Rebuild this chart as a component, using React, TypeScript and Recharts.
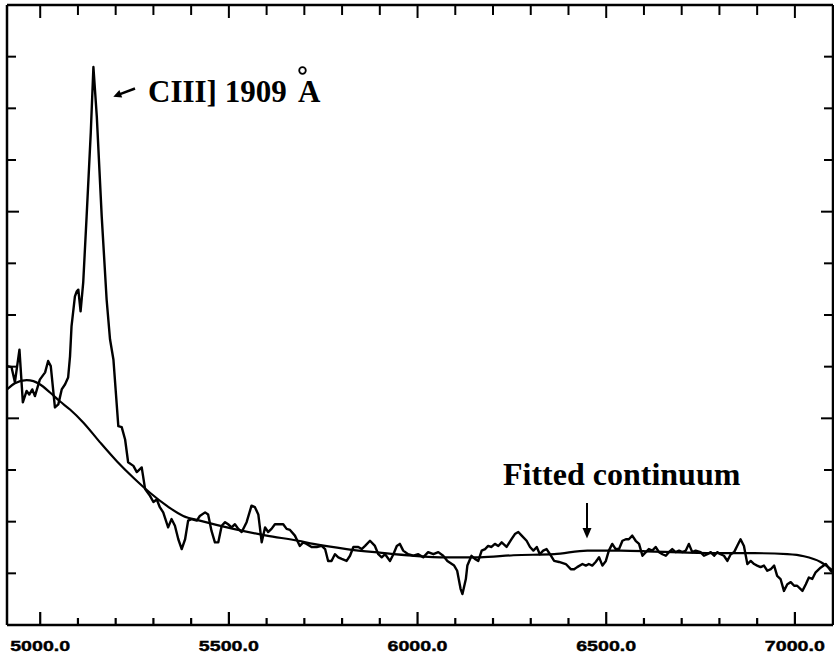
import { ComposedChart, Line, XAxis, YAxis } from 'recharts';

// observed spectrum (wavelength in Å, relative flux)
const SPEC_WAVE = [
  4913, 4924, 4933, 4945, 4954, 4964, 4971, 4979, 4986, 4999,
  5013, 5021, 5028, 5039, 5048, 5057, 5066, 5074, 5079, 5083,
  5092, 5097, 5101, 5107, 5114, 5123, 5134, 5141, 5150, 5163,
  5176, 5185, 5194, 5207, 5216, 5225, 5233, 5247, 5256, 5269,
  5278, 5291, 5300, 5309, 5317, 5326, 5339, 5348, 5357, 5366,
  5375, 5384, 5392, 5401, 5415, 5423, 5437, 5445, 5454, 5463,
  5472, 5481, 5490, 5498, 5507, 5516, 5525, 5534, 5547, 5560,
  5569, 5578, 5587, 5596, 5604, 5613, 5622, 5635, 5644, 5653,
  5662, 5675, 5688, 5697, 5706, 5719, 5733, 5746, 5755, 5763,
  5772, 5781, 5790, 5799, 5812, 5821, 5830, 5843, 5852, 5861,
  5874, 5887, 5896, 5905, 5914, 5927, 5936, 5945, 5953, 5962,
  5975, 5989, 6002, 6015, 6028, 6042, 6055, 6068, 6079, 6097,
  6105, 6114, 6119, 6128, 6132, 6143, 6152, 6161, 6170, 6179,
  6187, 6196, 6205, 6214, 6223, 6236, 6249, 6258, 6267, 6276,
  6289, 6298, 6307, 6316, 6324, 6333, 6342, 6351, 6362, 6375,
  6393, 6406, 6415, 6423, 6437, 6446, 6454, 6463, 6472, 6481,
  6490, 6499, 6507, 6516, 6525, 6534, 6543, 6552, 6560, 6569,
  6578, 6587, 6596, 6605, 6613, 6622, 6631, 6640, 6649, 6658,
  6666, 6675, 6684, 6693, 6702, 6711, 6719, 6728, 6737, 6750,
  6759, 6768, 6777, 6786, 6794, 6803, 6812, 6821, 6830, 6839,
  6847, 6856, 6865, 6874, 6883, 6892, 6900, 6909, 6918, 6927,
  6936, 6945, 6953, 6962, 6971, 6980, 6989, 6998, 7006, 7020,
  7029, 7037, 7046, 7055, 7068, 7082, 7095, 7101,
];

const SPEC_FLUX = [
  5.01, 4.99, 4.7, 5.33, 4.31, 4.53, 4.46, 4.56, 4.43, 4.75,
  4.89, 5.11, 5.01, 4.21, 4.27, 4.56, 4.66, 4.79, 5.2, 5.78,
  6.36, 6.46, 6.49, 6.07, 6.63, 7.91, 9.53, 10.8, 9.84, 7.91,
  6.3, 5.53, 5.14, 3.85, 3.83, 3.59, 3.15, 3.08, 2.96, 3.05,
  2.63, 2.5, 2.38, 2.43, 2.28, 2.18, 1.89, 2.05, 1.92, 1.66,
  1.47, 1.66, 2.02, 2.05, 2.02, 2.11, 2.18, 2.14, 1.82, 1.6,
  1.6, 1.92, 1.99, 1.95, 1.89, 1.95, 1.86, 1.8, 1.99, 2.31,
  2.28, 2.14, 1.6, 1.89, 1.8, 1.86, 1.95, 1.95, 1.95, 1.86,
  1.84, 1.73, 1.53, 1.6, 1.57, 1.51, 1.51, 1.53, 1.47, 1.24,
  1.24, 1.37, 1.31, 1.28, 1.24, 1.34, 1.51, 1.51, 1.47, 1.53,
  1.63, 1.53, 1.37, 1.31, 1.37, 1.24, 1.37, 1.53, 1.57, 1.44,
  1.37, 1.34, 1.37, 1.31, 1.41, 1.37, 1.41, 1.34, 1.24, 1.15,
  1.05, 0.7, 0.6, 0.89, 1.15, 1.34, 1.28, 1.24, 1.44, 1.47,
  1.53, 1.51, 1.57, 1.53, 1.6, 1.51, 1.66, 1.76, 1.8, 1.73,
  1.63, 1.51, 1.44, 1.51, 1.37, 1.44, 1.47, 1.37, 1.24, 1.22,
  1.18, 1.08, 1.08, 1.12, 1.18, 1.15, 1.18, 1.15, 1.22, 1.31,
  1.15, 1.24, 1.44, 1.57, 1.47, 1.47, 1.63, 1.66, 1.66, 1.73,
  1.63, 1.57, 1.34, 1.41, 1.47, 1.44, 1.51, 1.41, 1.37, 1.34,
  1.41, 1.47, 1.41, 1.44, 1.41, 1.44, 1.57, 1.41, 1.44, 1.41,
  1.34, 1.37, 1.41, 1.34, 1.41, 1.37, 1.34, 1.24, 1.37, 1.41,
  1.53, 1.66, 1.53, 1.18, 1.24, 1.18, 1.15, 1.12, 1.15, 1.05,
  1.08, 1.15, 0.95, 0.89, 0.66, 0.79, 0.83, 0.76, 0.76, 0.66,
  0.79, 0.92, 0.89, 1.02, 1.11, 1.18, 1.05, 1.02,
];

// fitted continuum
const CONT_WAVE = [
  4912, 4933, 4964, 4982, 4999, 5026, 5052, 5079, 5114, 5158,
  5203, 5247, 5291, 5335, 5379, 5423, 5512, 5600, 5684, 5724,
  5812, 5900, 5989, 6077, 6165, 6254, 6362, 6450, 6538, 6627,
  6715, 6803, 6892, 6980, 7024, 7068, 7101,
];

const CONT_FLUX = [
  4.56, 4.68, 4.74, 4.72, 4.66, 4.5, 4.33, 4.17, 3.92, 3.54,
  3.17, 2.85, 2.56, 2.31, 2.11, 2.02, 1.86, 1.73, 1.63, 1.57,
  1.47, 1.4, 1.34, 1.31, 1.31, 1.35, 1.37, 1.44, 1.44, 1.42,
  1.4, 1.39, 1.39, 1.37, 1.33, 1.22, 1.05,
];

const X_TICKS = [
  5000, 5100, 5200, 5300, 5400, 5500, 5600, 5700, 5800, 5900, 6000,
  6100, 6200, 6300, 6400, 6500, 6600, 6700, 6800, 6900, 7000,
];
const X_MAJOR = [5000, 5500, 6000, 6500, 7000];
const Y_TICKS = [1, 2, 3, 4, 5, 6, 7, 8, 9, 10, 11];
const Y_MAJOR = [4, 8];

const spectrum = SPEC_WAVE.map((w, i) => ({ w, f: SPEC_FLUX[i] }));
const continuum = CONT_WAVE.map((w, i) => ({ w, f: CONT_FLUX[i] }));

const INK = '#000';
const X_DOMAIN = [4912, 7101];
const CHART_W = 834;
const CHART_H = 656;
const MARGIN = { top: 4, right: 0, bottom: 0, left: 6 };
const TOP_AXIS_H = 1;
const BOTTOM_AXIS_H = 31;
const Y_AXIS_W = 1;
const PLOT_LEFT = MARGIN.left + Y_AXIS_W;
const PLOT_W = CHART_W - MARGIN.left - MARGIN.right - 2 * Y_AXIS_W;
const PLOT_BOTTOM = CHART_H - MARGIN.bottom - BOTTOM_AXIS_H;
const toPx = (w: number) => PLOT_LEFT + ((w - X_DOMAIN[0]) / (X_DOMAIN[1] - X_DOMAIN[0])) * PLOT_W;

function BottomLabel(props: any) {
  const { x, y, payload } = props;
  if (!X_MAJOR.includes(payload.value)) return <g />;
  return (
    <text
      x={x}
      y={y + 26}
      textAnchor="middle"
      fontFamily="Liberation Sans, Arial, sans-serif"
      fontWeight={700}
      fontSize={15}
      textLength={60}
      lengthAdjust="spacingAndGlyphs"
      stroke={INK}
      strokeWidth={0.4}
      fill={INK}
    >
      {payload.value.toFixed(1)}
    </text>
  );
}

function TopTick(props: any) {
  const { x, y, payload } = props;
  const major = X_MAJOR.includes(payload.value);
  return <path d={`M${x},${y}V${y + (major ? 13 : 10)}`} stroke={INK} strokeWidth={2} fill="none" />;
}

function LeftTick(props: any) {
  const { x, y, payload } = props;
  const major = Y_MAJOR.includes(payload.value);
  return <path d={`M${x},${y}H${x + (major ? 12 : 9)}`} stroke={INK} strokeWidth={2} fill="none" />;
}

function RightTick(props: any) {
  const { x, y, payload } = props;
  const major = Y_MAJOR.includes(payload.value);
  return <path d={`M${x},${y}H${x - (major ? 12 : 9)}`} stroke={INK} strokeWidth={2} fill="none" />;
}

const serif = 'Liberation Serif, Times New Roman, serif';

export default function App() {
  return (
    <div style={{ position: 'absolute', left: 0, top: 0, width: CHART_W, height: CHART_H, background: '#fff' }}>
      <ComposedChart width={CHART_W} height={CHART_H} margin={MARGIN}>
        <XAxis
          xAxisId="top"
          orientation="top"
          dataKey="w"
          type="number"
          domain={X_DOMAIN}
          allowDataOverflow
          ticks={X_TICKS}
          interval={0}
          height={TOP_AXIS_H}
          tickSize={0}
          tickMargin={0}
          tickLine={false}
          axisLine={{ stroke: INK, strokeWidth: 2.5 }}
          tick={(p: any) => <TopTick {...p} />}
        />
        <XAxis
          xAxisId="bottom"
          orientation="bottom"
          dataKey="w"
          type="number"
          domain={X_DOMAIN}
          allowDataOverflow
          ticks={X_TICKS}
          interval={0}
          height={BOTTOM_AXIS_H}
          tickSize={0}
          tickMargin={0}
          tickLine={false}
          axisLine={{ stroke: INK, strokeWidth: 2.5 }}
          tick={(p: any) => <BottomLabel {...p} />}
        />
        <YAxis
          yAxisId="left"
          type="number"
          domain={[0, 12]}
          allowDataOverflow
          ticks={Y_TICKS}
          interval={0}
          width={Y_AXIS_W}
          tickSize={0}
          tickMargin={0}
          tickLine={false}
          axisLine={{ stroke: INK, strokeWidth: 2.5 }}
          tick={(p: any) => <LeftTick {...p} />}
        />
        <YAxis
          yAxisId="right"
          orientation="right"
          type="number"
          domain={[0, 12]}
          allowDataOverflow
          ticks={Y_TICKS}
          interval={0}
          width={Y_AXIS_W}
          tickSize={0}
          tickMargin={0}
          tickLine={false}
          axisLine={{ stroke: INK, strokeWidth: 2.5 }}
          tick={(p: any) => <RightTick {...p} />}
        />
        <Line
          xAxisId="bottom"
          yAxisId="left"
          data={continuum}
          dataKey="f"
          type="monotone"
          stroke={INK}
          strokeWidth={2.2}
          dot={false}
          isAnimationActive={false}
        />
        <Line
          xAxisId="bottom"
          yAxisId="left"
          data={spectrum}
          dataKey="f"
          type="linear"
          stroke={INK}
          strokeWidth={2.4}
          strokeLinejoin="round"
          dot={false}
          isAnimationActive={false}
        />
      </ComposedChart>

      {/* annotations + inward marks along the bottom edge */}
      <svg
        width={CHART_W}
        height={CHART_H}
        style={{ position: 'absolute', left: 0, top: 0, pointerEvents: 'none' }}
      >
        {X_TICKS.map((t) => (
          <path
            key={t}
            d={`M${toPx(t)},${PLOT_BOTTOM}V${PLOT_BOTTOM - (X_MAJOR.includes(t) ? 13 : 7)}`}
            stroke={INK}
            strokeWidth={2.2}
            fill="none"
          />
        ))}

        <line x1={135} y1={88.5} x2={120} y2={94.2} stroke={INK} strokeWidth={2.5} />
        <polygon points="113.3,96.7 122.2,97.6 119.4,90" fill={INK} />
        <text x={148} y={102} fontFamily={serif} fontWeight={700} fontSize={31} fill={INK}>
          CIII] 1909
        </text>
        <text x={298} y={102} fontFamily={serif} fontWeight={700} fontSize={31} fill={INK}>
          A
        </text>
        <circle cx={302.5} cy={70.5} r={3.3} fill="none" stroke={INK} strokeWidth={1.8} />

        <text x={503} y={485} fontFamily={serif} fontWeight={700} fontSize={32} fill={INK}>
          Fitted continuum
        </text>
        <line x1={587} y1={503} x2={587} y2={530} stroke={INK} strokeWidth={2} />
        <polygon points="582.5,528 591.5,528 587,538.5" fill={INK} />
      </svg>
    </div>
  );
}
